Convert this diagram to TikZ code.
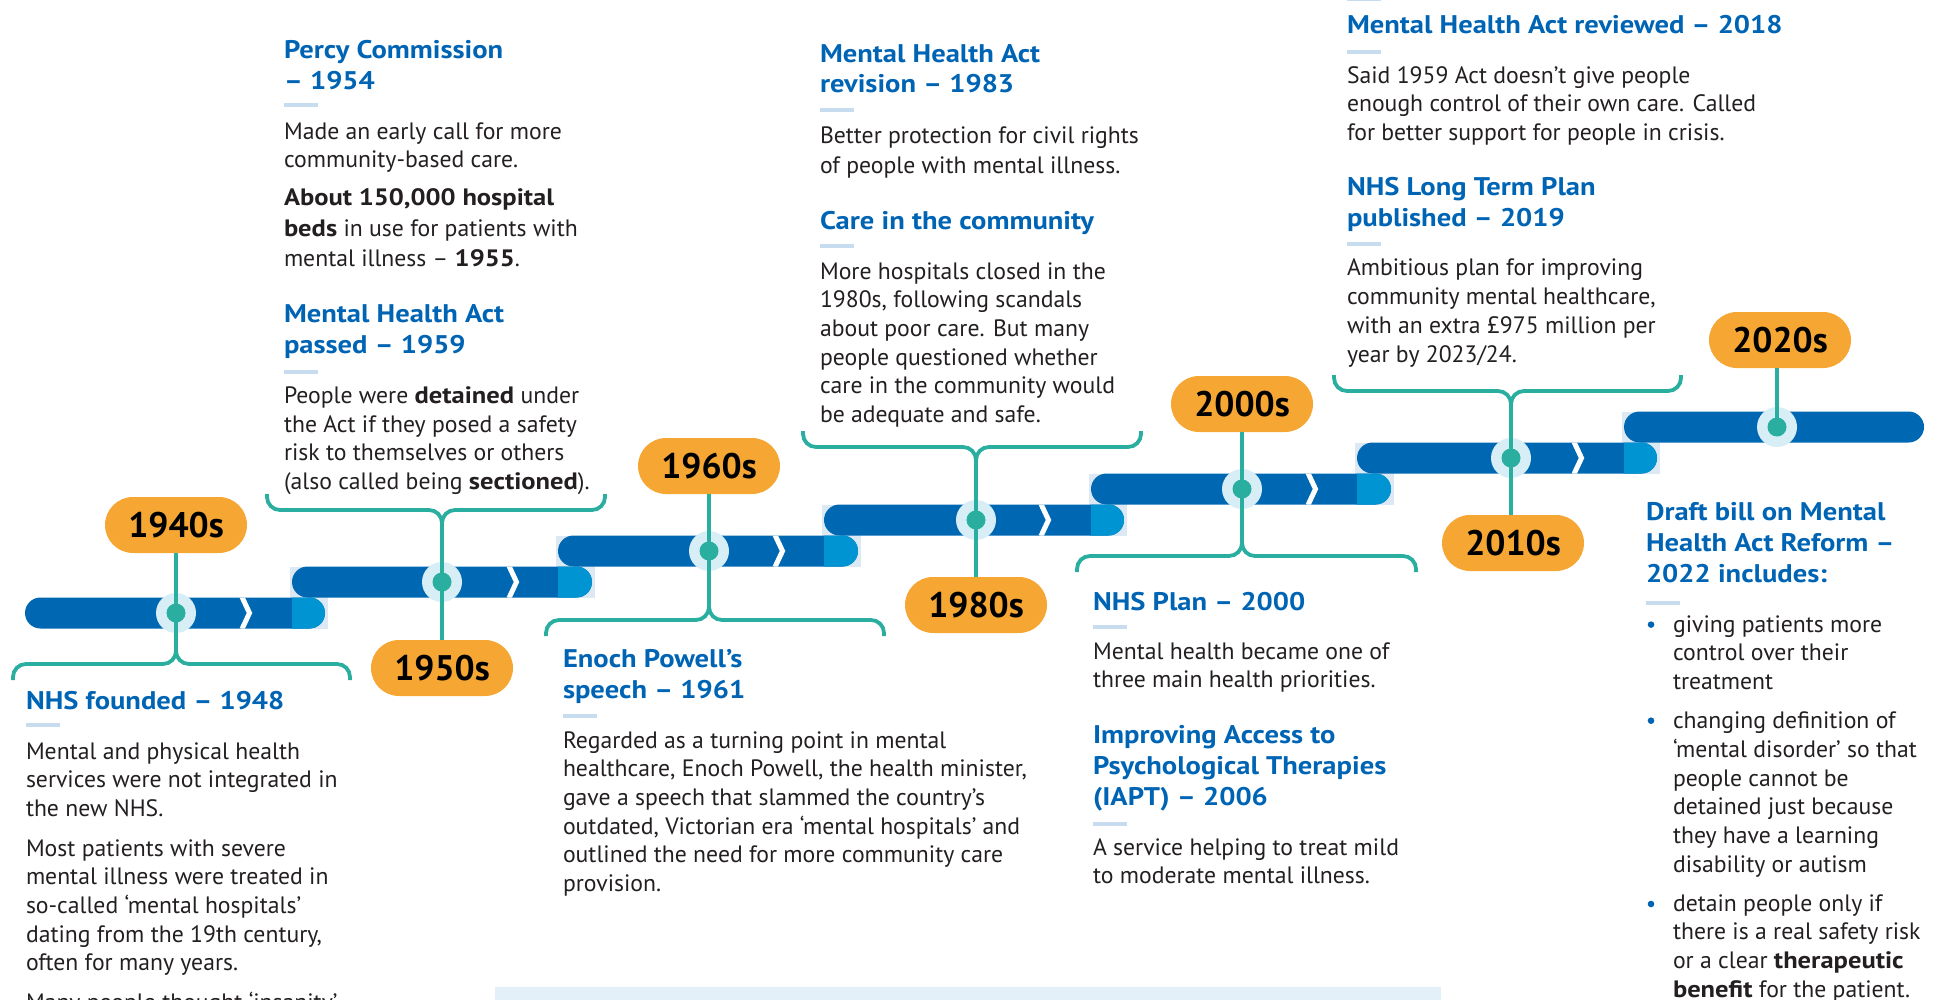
\documentclass[tikz,border=0pt]{standalone}
\usepackage{fontspec}
\setmainfont{PT Sans}
% a slightly wider bold face for headings and emphasis
\newfontfamily\wideboldfamily{PT Sans}[FakeStretch=1.12]
\newcommand\wb[1]{{\wideboldfamily\bfseries #1}}
\definecolor{barblue}{HTML}{0068B3}
\definecolor{capblue}{HTML}{0094D2}
\definecolor{jointpale}{HTML}{DCE8F3}
\definecolor{halocol}{HTML}{D7EEF7}
\definecolor{tealcol}{HTML}{2AAE9F}
\definecolor{pillcol}{HTML}{F5A633}
\definecolor{headblue}{HTML}{0064B4}
\definecolor{dashcol}{HTML}{C8DCEF}
\definecolor{bodytxt}{HTML}{231F20}
\definecolor{boxpale}{HTML}{E3EFF9}
% stacked lines, box baseline = first line's baseline
\newcommand\txtlines[1]{\vtop{\let\\\cr\halign{##\hfil\cr#1\crcr}}}
\begin{document}
\begin{tikzpicture}[x=1pt,y=-1pt,
  body/.style={anchor=base west,inner sep=0pt,outer sep=0pt,text=bodytxt,font=\fontsize{23.7}{28.7}\selectfont},
  head/.style={anchor=base west,inner sep=0pt,outer sep=0pt,text=headblue,font=\fontsize{25.5}{31}\selectfont\wideboldfamily\bfseries},
  pill/.style={fill=pillcol,rounded corners=28pt,minimum width=142pt,minimum height=56pt,inner sep=0pt,text=black,font=\fontsize{35.5}{35.5}\selectfont\bfseries},
  halo/.style={circle,fill=halocol,minimum size=40pt,inner sep=0pt},
  dotm/.style={circle,fill=tealcol,minimum size=19pt,inner sep=0pt},
  conn/.style={draw=tealcol,line width=3.8pt},
  bullet/.style={circle,fill=headblue,minimum size=6.6pt,inner sep=0pt}]
\useasboundingbox (0,0) rectangle (1942,1000);
\clip (0,0) rectangle (1942,1000);

% pale panel at the foot
\fill[boxpale] (495,987) rectangle (1441,1010);

% pale joints between steps
\foreach \xs/\y/\xn in {25/613/292,292/582/558,558/551/824,824/520/1091,1091/489/1357,1357/458/1624}
  \fill[jointpale] (\xn-2,\y-46.5) rectangle (\xs+303,\y+15.5);

% timeline bars
\foreach \xs/\y in {25/613,292/582,558/551,824/520,1091/489,1357/458,1624/427}
  \fill[barblue,rounded corners=15.5pt] (\xs,\y-15.5) rectangle (\xs+300,\y+15.5);

% light end caps and chevrons
\foreach \xs/\y/\xn in {25/613/292,292/582/558,558/551/824,824/520/1091,1091/489/1357,1357/458/1624}{
  \begin{scope}
    \clip[rounded corners=15.5pt] (\xs,\y-15.5) rectangle (\xs+300,\y+15.5);
    \fill[capblue] (\xn,\y-16) rectangle (\xs+301,\y+16);
    \draw[white,line width=5pt] (\xs+217,\y-16) -- (\xs+224.5,\y) -- (\xs+217,\y+16);
  \end{scope}}

% halos on the bars
\node[halo] (c40) at (176,613) {};
\node[halo] (c50) at (442,582) {};
\node[halo] (c60) at (709,551) {};
\node[halo] (c80) at (976,520) {};
\node[halo] (c00) at (1242,489) {};
\node[halo] (c10) at (1511,458) {};
\node[halo] (c20) at (1777,427) {};

% decade pills
\node[pill] (p40) at (176,525) {1940s};
\node[pill] (p50) at (442,668) {1950s};
\node[pill] (p60) at (709,466) {1960s};
\node[pill] (p80) at (976,605) {1980s};
\node[pill] (p00) at (1242,404) {2000s};
\node[pill] (p10) at (1513,543) {2010s};
\node[pill] (p20) at (1780,340) {2020s};

% stems from pills to the bar
\draw[conn] (c40.center) -- (c40.center |- p40.south);
\draw[conn] (c50.center) -- (c50.center |- p50.north);
\draw[conn] (c60.center) -- (c60.center |- p60.south);
\draw[conn] (c80.center) -- (c80.center |- p80.north);
\draw[conn] (c00.center) -- (c00.center |- p00.south);
\draw[conn] (c10.center) -- (c10.center |- p10.north);
\draw[conn] (c20.center) -- (c20.center |- p20.south);

% braces towards the text blocks
\foreach \n/\c/\yh/\L/\R/\ye in {c40/176/664/13/350/680,c50/442/510/267/605/494,c60/709/620/546/884/636,c80/976/447/803/1141/431,c00/1242/556/1077/1416/572,c10/1511/391/1334/1681/375}{
  \draw[conn,rounded corners=13pt] (\n.center) -- (\c,\yh) -- (\L,\yh) -- (\L,\ye);
  \draw[conn,rounded corners=13pt] (\n.center) -- (\c,\yh) -- (\R,\yh) -- (\R,\ye);}

% dots on top
\foreach \n in {c40,c50,c60,c80,c00,c10,c20}
  \node[dotm] (d\n) at (\n.center) {};

% short rules under headings
\foreach \x/\y in {26/725,284/105.5,284/372,563/716,820/110,820/246,1093/627,1093/824,1347/-1,1347/52,1347/244.5,1646/602.5}
  \fill[dashcol] (\x,\y-2) rectangle (\x+34,\y+2);

% 1940s
\node[head] (h48) at (26,709) {\txtlines{NHS founded – 1948}};
\node[body] (t48a) at (26,759) {\txtlines{Mental and physical health\\services were not integrated in\\the new NHS.}};
\node[body] (t48b) at (26,856) {\txtlines{Most patients with severe\\mental illness were treated in\\so-called ‘mental hospitals’\\dating from the 19th century,\\often for many years.}};
\node[body] (t48c) at (26,1010) {\txtlines{Many people thought ‘insanity’}};

% 1950s
\node[head] (h54) at (284,58.5) {\txtlines{Percy Commission\\– 1954}};
\node[body] (t54) at (284,139.3) {\txtlines{Made an early call for more\\community-based care.}};
\node[body,font=\fontsize{23.7}{30.2}\selectfont] (t55) at (284,206) {\txtlines{\wb{About 150,000 hospital}\\\wb{beds} in use for patients with\\mental illness – \wb{1955}.}};
\node[head,font=\fontsize{25.5}{30.6}\selectfont\wideboldfamily\bfseries] (h59) at (284,322.7) {\txtlines{Mental Health Act\\passed – 1959}};
\node[body] (t59) at (284,403.3) {\txtlines{People were \wb{detained} under\\the Act if they posed a safety\\risk to themselves or others\\(also called being \wb{sectioned}).}};

% 1960s
\node[head] (h61) at (563,667) {\txtlines{Enoch Powell’s\\speech – 1961}};
\node[body] (t61) at (563,748) {\txtlines{Regarded as a turning point in mental\\healthcare, Enoch Powell, the health minister,\\gave a speech that slammed the country’s\\outdated, Victorian era ‘mental hospitals’ and\\outlined the need for more community care\\provision.}};

% 1980s
\node[head,font=\fontsize{25.5}{30.3}\selectfont\wideboldfamily\bfseries] (h83) at (820,62.7) {\txtlines{Mental Health Act\\revision – 1983}};
\node[body,font=\fontsize{23.7}{30.5}\selectfont] (t83) at (820,143.4) {\txtlines{Better protection for civil rights\\of people with mental illness.}};
\node[head] (hcc) at (820,229.6) {\txtlines{Care in the community}};
\node[body] (tcc) at (820,279) {\txtlines{More hospitals closed in the\\1980s, following scandals\\about poor care. But many\\people questioned whether\\care in the community would\\be adequate and safe.}};

% 2000s
\node[head] (h00) at (1093,610.7) {\txtlines{NHS Plan – 2000}};
\node[body,font=\fontsize{23.7}{28}\selectfont] (t00) at (1093,659) {\txtlines{Mental health became one of\\three main health priorities.}};
\node[head,font=\fontsize{25.5}{30.7}\selectfont\wideboldfamily\bfseries] (h06) at (1093,743.6) {\txtlines{Improving Access to\\Psychological Therapies\\(IAPT) – 2006}};
\node[body] (t06) at (1093,855) {\txtlines{A service helping to treat mild\\to moderate mental illness.}};

% 2010s
\node[head] (h18) at (1347,33.3) {\txtlines{Mental Health Act reviewed – 2018}};
\node[body,font=\fontsize{23.7}{28.4}\selectfont] (t18) at (1347,83.3) {\txtlines{Said 1959 Act doesn’t give people\\enough control of their own care. Called\\for better support for people in crisis.}};
\node[head] (h19) at (1347,195.7) {\txtlines{NHS Long Term Plan\\published – 2019}};
\node[body] (t19) at (1347,276) {\txtlines{Ambitious plan for improving\\community mental healthcare,\\with an extra £975 million per\\year by 2023/24.}};

% 2020s
\node[head] (h22) at (1646,520.3) {\txtlines{Draft bill on Mental\\Health Act Reform –\\2022 includes:}};
\node[bullet] (b1) at (1651,624.6) {};
\node[body] (t22a) at (1673,632.2) {\txtlines{giving patients more\\control over their\\treatment}};
\node[bullet] (b2) at (1651,720.7) {};
\node[body] (t22b) at (1673,728.6) {\txtlines{changing definition of\\‘mental disorder’ so that\\people cannot be\\detained just because\\they have a learning\\disability or autism}};
\node[bullet] (b3) at (1651,904) {};
\node[body] (t22c) at (1673,911) {\txtlines{detain people only if\\there is a real safety risk\\or a clear \wb{therapeutic}\\\wb{benefit} for the patient.}};
\end{tikzpicture}
\end{document}
